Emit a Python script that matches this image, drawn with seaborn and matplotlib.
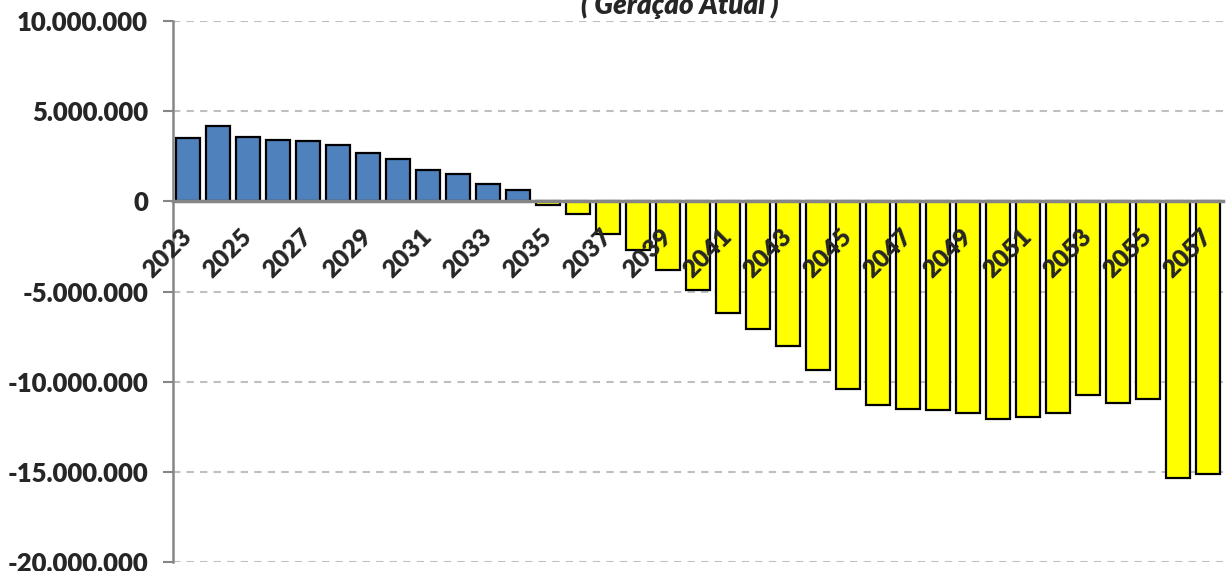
import numpy as np
import pandas as pd
import matplotlib
matplotlib.use('Agg')
import matplotlib.pyplot as plt
import seaborn as sns
from matplotlib.ticker import FuncFormatter, FixedLocator

# dados (saldo anual, geracao atual)
anos = [str(a) for a in range(2023, 2058)]
saldo = [3520000, 4170000, 3590000, 3410000, 3370000, 3130000, 2670000, 2350000,
         1720000, 1520000, 940000, 610000, -200000, -690000, -1790000, -2690000,
         -3830000, -4930000, -6190000, -7090000, -8040000, -9350000, -10390000,
         -11280000, -11500000, -11590000, -11720000, -12060000, -11980000,
         -11740000, -10760000, -11200000, -10960000, -15350000, -15130000]
titulo = '( Geração Atual )'
y_ticks = [-20000000, -15000000, -10000000, -5000000, 0, 5000000, 10000000]

sns.set_style('white')
plt.rcParams['font.family'] = ['Lato', 'DejaVu Sans']

df = pd.DataFrame({'ano': anos, 'saldo': saldo})
cores = ['#4F81BD' if v >= 0 else '#FFFF00' for v in saldo]

fig = plt.figure(figsize=(12.27, 5.71), dpi=100)
ax = fig.add_axes([173/1227, 1-562/571, (1223-173)/1227, (562-21)/571])

sns.barplot(data=df, x='ano', y='saldo', hue='ano', palette=cores, legend=False,
            width=0.78, edgecolor='black', linewidth=1.6, saturation=1, ax=ax, zorder=2)

ax.set_ylim(-20000000, 10000000)
ax.set_xlim(-0.5, len(anos) - 0.5)
ax.set_yticks(y_ticks)
ax.yaxis.set_major_formatter(FuncFormatter(lambda v, p: f'{int(v):,}'.replace(',', '.')))
ax.yaxis.grid(True, linestyle=(0, (3.5, 3)), color='#BFBFBF', linewidth=1.5)
ax.set_axisbelow(True)
ax.xaxis.set_zorder(5)

for s in ['top', 'right']:
    ax.spines[s].set_visible(False)
ax.spines['left'].set_color('#868686')
ax.spines['left'].set_linewidth(1.8)
ax.spines['bottom'].set_position(('data', 0))
ax.spines['bottom'].set_color('#868686')
ax.spines['bottom'].set_linewidth(2.5)
ax.spines['bottom'].set_zorder(4)

ax.set_xticks(range(0, len(anos), 2))
ax.set_xticklabels(anos[::2])
ax.xaxis.set_minor_locator(FixedLocator(np.arange(0.5, len(anos), 1)))
ax.tick_params(axis='x', which='major', length=0, pad=23)
ax.tick_params(axis='x', which='minor', length=4, width=1.5, color='#A6A6A6', direction='out')
ax.tick_params(axis='y', length=7, width=1.5, color='#868686', pad=11, left=True)
for lab in ax.get_xticklabels():
    lab.set_rotation(45)
    lab.set_rotation_mode('anchor')
    lab.set_ha('right')
    lab.set_va('center')
    lab.set_fontsize(18)
    lab.set_fontweight('heavy')
for lab in ax.get_yticklabels():
    lab.set_fontsize(18.5)
    lab.set_fontweight('heavy')

ax.set_xlabel('')
ax.set_ylabel('')

fig.text(680/1227, 1-14/571, titulo, ha='center', va='baseline', fontsize=20,
         fontweight='heavy', fontstyle='italic')

fig.savefig('out.png', dpi=100)
